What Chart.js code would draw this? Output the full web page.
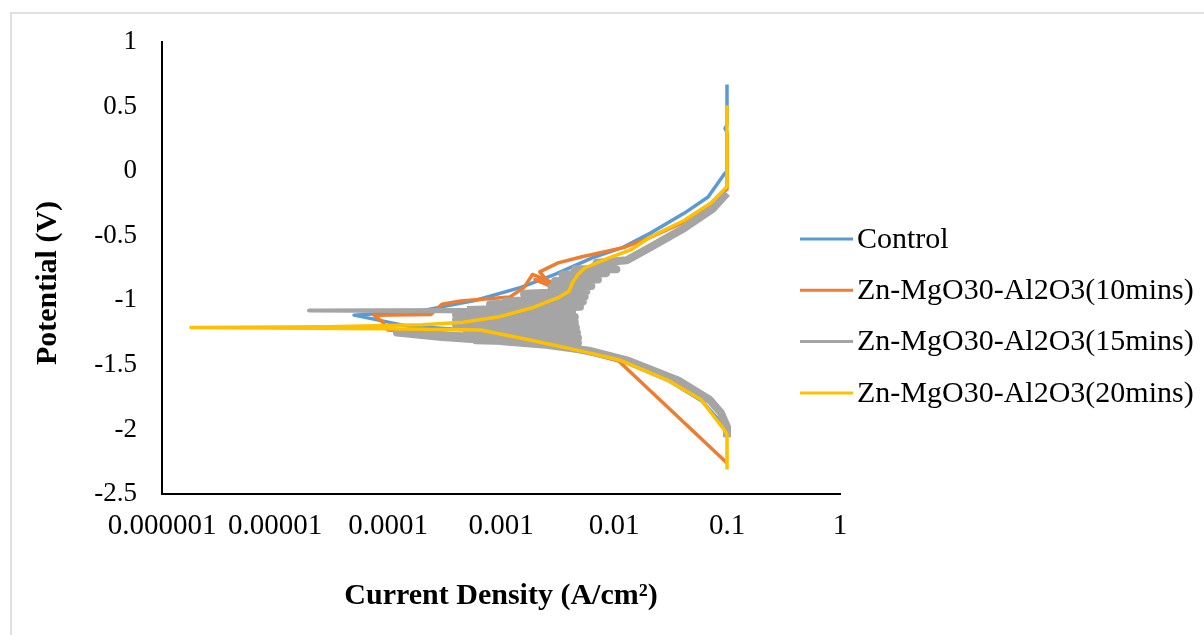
<!DOCTYPE html>
<html>
<head>
<meta charset="utf-8">
<script src="https://cdn.jsdelivr.net/npm/chart.js@4.4.0/dist/chart.umd.min.js"></script>
<style>
  html, body { margin: 0; padding: 0; background: #fff; overflow: hidden; }
  #marco { position: absolute; left: 10px; top: 12px; width: 1300px; height: 700px; border: 2px solid #e0e0e0; }
  #grafica { position: absolute; left: 0; top: 0; }
</style>
</head>
<body>
<div id="marco"></div>
<canvas id="grafica" width="1204" height="635"></canvas>
<script>
// series names and colours
const seriesLabels = ['Control', 'Zn-MgO30-Al2O3(10mins)', 'Zn-MgO30-Al2O3(15mins)', 'Zn-MgO30-Al2O3(20mins)'];
const seriesColors = ['#5B9BD5', '#ED7D31', '#A5A5A5', '#FFC000'];

// axis ticks
const xTickValues = [0.000001, 0.00001, 0.0001, 0.001, 0.01, 0.1, 1];
const xTickLabels = ['0.000001', '0.00001', '0.0001', '0.001', '0.01', '0.1', '1'];
const yTickValues = [-2.5, -2, -1.5, -1, -0.5, 0, 0.5, 1];
const yTickLabels = ['-2.5', '-2', '-1.5', '-1', '-0.5', '0', '0.5', '1'];

// Control
const controlCurrent = [0.1, 0.1, 0.06, 0.03, 0.011, 0.004, 0.0015, 0.0005, 0.00015, 0.00005, 0.0002, 0.0006, 0.0015, 0.003, 0.0065, 0.012, 0.021, 0.042, 0.068, 0.095, 0.1, 0.1, 0.096, 0.1, 0.1];
const controlPotential = [-2.05, -2.0, -1.78, -1.62, -1.46, -1.38, -1.31, -1.23, -1.2, -1.115, -1.08, -1.0, -0.9, -0.8, -0.67, -0.59, -0.48, -0.325, -0.2, -0.02, 0.0, 0.3, 0.33, 0.36, 0.67];

// 10 mins
const min10Current = [0.1, 0.011, 0.005, 0.002, 0.0006, 0.0003, 0.0001, 0.00009, 0.000075, 0.00024, 0.0003, 0.00044, 0.0012, 0.0016, 0.0019, 0.0028, 0.002, 0.0029, 0.0022, 0.0032, 0.0051, 0.0123, 0.02, 0.04, 0.07, 0.1, 0.1];
const min10Potential = [-2.26, -1.47, -1.39, -1.33, -1.28, -1.255, -1.23, -1.17, -1.115, -1.11, -1.03, -1.005, -0.975, -0.90, -0.80, -0.86, -0.84, -0.90, -0.78, -0.71, -0.665, -0.59, -0.52, -0.40, -0.26, -0.14, 0.3];

// 15 mins (noisy band around the corrosion potential)
const min15Current = [0.1, 0.1, 0.088, 0.07, 0.037, 0.0135, 0.006, 0.0025, 0.0008, 0.0003, 0.00012,
    0.0048, 0.0006, 0.0048, 0.0005, 0.0047, 0.0005, 0.0046, 0.0004, 0.0045, 0.0004, 0.0045, 0.0004, 0.0046,
    0.00002, 0.0005, 0.005, 0.0008, 0.0053, 0.0011, 0.0055, 0.0016, 0.0057, 0.0028, 0.0063, 0.003, 0.0072, 0.0035, 0.0085, 0.0045, 0.0105, 0.007,
    0.013, 0.021, 0.042, 0.075, 0.1];
const min15Potential = [-2.06, -1.98, -1.87, -1.77, -1.62, -1.47, -1.39, -1.345, -1.31, -1.285, -1.25,
    -1.33, -1.31, -1.29, -1.27, -1.25, -1.23, -1.21, -1.19, -1.17, -1.15, -1.13, -1.11, -1.09,
    -1.08, -1.075, -1.05, -1.03, -1.01, -1.01, -0.97, -0.95, -0.93, -0.90, -0.89, -0.85, -0.84, -0.80, -0.79, -0.76, -0.76, -0.71,
    -0.69, -0.59, -0.44, -0.29, -0.17];

// 20 mins
const min20Current = [0.1, 0.1, 0.095, 0.059, 0.030, 0.011, 0.0047, 0.00185, 0.00066, 0.0001, 0.0000018, 0.00003, 0.0002, 0.00046, 0.00094, 0.00185, 0.0032, 0.004, 0.0043, 0.0048, 0.0055, 0.0089, 0.014, 0.021, 0.042, 0.072, 0.1, 0.1];
const min20Potential = [-2.31, -2.04, -2.005, -1.77, -1.62, -1.46, -1.386, -1.31, -1.23, -1.22, -1.21, -1.205, -1.19, -1.17, -1.13, -1.06, -0.98, -0.93, -0.86, -0.80, -0.75, -0.673, -0.61, -0.51, -0.38, -0.247, -0.12, 0.51];

function puntos(cur, pot) {
    return cur.map((c, i) => ({ x: c, y: pot[i] }));
}

const pares = [
    [controlCurrent, controlPotential],
    [min10Current, min10Potential],
    [min15Current, min15Potential],
    [min20Current, min20Potential]
];
const anchos = [3.5, 3.5, 8, 3.5];

const datasets = pares.map((par, i) => ({
    label: seriesLabels[i],
    data: puntos(par[0], par[1]),
    borderColor: seriesColors[i],
    backgroundColor: seriesColors[i],
    borderWidth: anchos[i],
    borderJoinStyle: 'round',
    showLine: true,
    pointRadius: 0,
    tension: 0,
    order: 4 - i // later series on top, like Excel
}));

// the 15 min tail towards the tip is thinner than the noisy band
datasets[2].segment = {
    borderWidth: ctx => (ctx.p0.parsed.x < 0.0001 || ctx.p1.parsed.x < 0.0001) ? 4 : 8
};

// legend drawn by hand so it can sit where the original one sits
const leyendaManual = {
    id: 'leyendaManual',
    afterDraw(chart) {
        const ctx = chart.ctx;
        ctx.save();
        ctx.font = '30px "Liberation Serif"';
        ctx.textBaseline = 'middle';
        ctx.textAlign = 'left';
        chart.data.datasets.forEach((ds, i) => {
            const y = 239 + i * 51.3;
            ctx.strokeStyle = ds.borderColor;
            ctx.lineWidth = 3;
            ctx.beginPath();
            ctx.moveTo(800, y);
            ctx.lineTo(853, y);
            ctx.stroke();
            ctx.fillStyle = '#000';
            ctx.fillText(ds.label, 857, y + 1);
        });
        ctx.restore();
    }
};

const fuente = 'Liberation Serif';

new Chart(document.getElementById('grafica'), {
    type: 'scatter',
    data: { datasets: datasets },
    plugins: [leyendaManual],
    options: {
        responsive: false,
        animation: false,
        layout: { padding: { top: 42, right: 364, bottom: 0, left: 0 } },
        plugins: {
            legend: { display: false },
            tooltip: { enabled: false }
        },
        scales: {
            x: {
                type: 'logarithmic',
                min: 0.000001,
                max: 1,
                afterBuildTicks(scale) {
                    scale.ticks = xTickValues.map(v => ({ value: v }));
                },
                afterFit(scale) { scale.height = 141; },
                ticks: {
                    autoSkip: false,
                    minRotation: 0,
                    maxRotation: 0,
                    padding: 15,
                    color: '#000',
                    font: { family: fuente, size: 29 },
                    callback: (v, i) => xTickLabels[i]
                },
                grid: { drawOnChartArea: false, drawTicks: false },
                border: { color: '#000', width: 2 },
                title: {
                    display: true,
                    text: 'Current Density (A/cm²)',
                    color: '#000',
                    font: { family: fuente, size: 30, weight: 'bold' },
                    padding: { top: 0, bottom: 21 }
                }
            },
            y: {
                min: -2.5,
                max: 1,
                afterBuildTicks(scale) {
                    scale.ticks = yTickValues.map(v => ({ value: v }));
                },
                afterFit(scale) { scale.width = 162; },
                ticks: {
                    padding: 25,
                    color: '#000',
                    font: { family: fuente, size: 27 },
                    callback: (v, i) => yTickLabels[i]
                },
                grid: { drawOnChartArea: false, drawTicks: false },
                border: { color: '#000', width: 2 },
                title: {
                    display: true,
                    text: 'Potential (V)    ',
                    color: '#000',
                    font: { family: fuente, size: 30, weight: 'bold' },
                    padding: { top: 30, bottom: 0 }
                }
            }
        }
    }
});
</script>
</body>
</html>
